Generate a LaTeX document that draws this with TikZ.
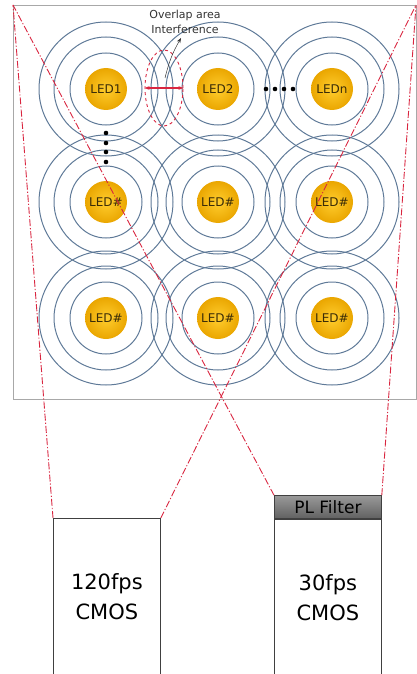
\documentclass[tikz,border=0pt]{standalone}
\usepackage{fontspec}
\setmainfont{DejaVu Sans}
\usetikzlibrary{arrows.meta,positioning,calc,shapes.geometric}
\definecolor{ringblue}{HTML}{5F7A98}
\definecolor{ledgold}{HTML}{EAA600}
\definecolor{ledlight}{HTML}{FFCD2E}
\definecolor{ledtext}{HTML}{3A2C08}
\definecolor{fovred}{HTML}{D92640}
\definecolor{framegray}{HTML}{A8A8A8}
\definecolor{camgray}{HTML}{404040}

\begin{document}
\begin{tikzpicture}[x=1pt, y=-1pt,
  led/.style={circle, minimum size=42pt, inner sep=0pt, inner color=ledlight, outer color=ledgold,
              text=ledtext, font=\fontsize{12}{13}\selectfont},
  ring/.style={draw=ringblue, line width=1pt},
  fov/.style={fovred, line width=0.9pt, dash pattern=on 7pt off 2pt on 1.2pt off 2pt},
  cam/.style={draw=camgray, line width=0.8pt, fill=white, minimum width=107pt, minimum height=157pt,
              inner sep=0pt, align=center, font=\fontsize{21}{30}\selectfont},
  filterbox/.style={draw=camgray, line width=0.8pt, top color=black!40, bottom color=black!62,
              minimum width=107pt, minimum height=23pt, inner sep=0pt, font=\fontsize{17}{18}\selectfont}]
\useasboundingbox (0,0) rectangle (417,674);
% ================= LED panel =================
\draw[framegray, line width=0.9pt] (13,5) rectangle (416,399);
\coordinate (tl) at (13,5);
\coordinate (tr) at (416,5);
\foreach \x in {106,218,332}{
  \foreach \y in {89,202,318}{
    \foreach \r in {36,52,67}{\draw[ring] (\x,\y) circle (\r);}
  }
}
\node[led] (led1) at (106,89) {LED1};
\node[led] (led2) at (218,89) {LED2};
\node[led] (ledn) at (332,89) {LEDn};
\node[led] (led21) at (106,202) {LED\#};
\node[led] (led22) at (218,202) {LED\#};
\node[led] (led23) at (332,202) {LED\#};
\node[led] (led31) at (106,318) {LED\#};
\node[led] (led32) at (218,318) {LED\#};
\node[led] (led33) at (332,318) {LED\#};
% more LEDs
\foreach \x in {266,275,284,293}{\fill (\x,89) circle (2.3);}
\foreach \y in {133,143,152,162}{\fill (106,\y) circle (2.3);}
% overlap between LED1 and LED2
\node[ellipse, draw=fovred, dashed, line width=0.9pt, minimum width=38pt, minimum height=76pt,
      inner sep=0pt] (ovl) at (164,88) {};
\draw[fovred, line width=1.4pt, {Stealth[length=5pt]}-{Stealth[length=5pt]}] (ovl.west) -- (ovl.east);
\node[align=center, text=black!80, font=\fontsize{11}{15}\selectfont] (ovltxt) at (185,22)
   {Overlap area\\Interference};
\coordinate (ovlfoot) at (165,78);
\draw[black!80, line width=0.5pt, -{Stealth[length=5pt]}] (ovlfoot) to[bend left=8] (181,38);
% ================= cameras =================
\node[cam, anchor=north west] (cam1) at (53,518) {120fps\\CMOS};
\node[cam, anchor=north west] (cam2) at (274,519) {30fps\\CMOS};
\node[filterbox, above=0pt of cam2] (filter) {PL Filter};
% fields of view
\draw[fov] (cam1.north west) -- (tl);
\draw[fov] (cam1.north east) -- (tr);
\draw[fov] (filter.north west) -- (tl);
\draw[fov] (filter.north east) -- (tr);
\end{tikzpicture}
\end{document}
